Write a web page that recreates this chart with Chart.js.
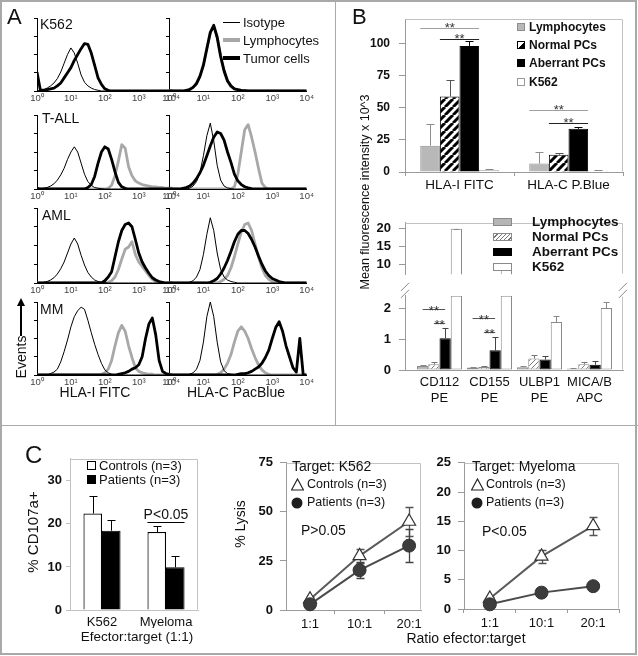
<!DOCTYPE html>
<html><head><meta charset="utf-8">
<script src="https://cdn.jsdelivr.net/npm/chart.js@4.4.1/dist/chart.umd.min.js"></script>
<style>
html,body{margin:0;padding:0;background:#fff;}
#fig{position:relative;width:638px;height:656px;overflow:hidden;font-family:'Liberation Sans',Arial,Helvetica,sans-serif;color:#111;background:#fff;}
.t{position:absolute;white-space:nowrap;line-height:1;z-index:3;}
.bx{position:absolute;z-index:3;box-sizing:border-box;}
canvas{position:absolute;}
</style></head>
<body><div id="fig"></div>
<script>
// ===================== DATA =====================
// ---- Panel A: flow histograms (x = log10 fluorescence, y = % of axis height) ----
const logGrid = [0,0.1,0.2,0.3,0.4,0.5,0.6,0.7,0.8,0.9,1,1.1,1.2,1.3,1.4,1.5,1.6,1.7,1.8,1.9,2,2.1,2.2,2.3,2.4,2.5,2.6,2.7,2.8,2.9,3,3.1,3.2,3.3,3.4,3.5,3.6,3.7,3.8,3.9,4];
const decadeTicks = [0,1,2,3,4];
const decadeLabels = ['10\u2070','10\u00b9','10\u00b2','10\u00b3','10\u2074'];

const isoK562I = [0,1,2,4,7,11,17,26,38,50, 59,52,38,22,12,7,4,2,1,0, 0,0,0,0,0,0,0,0,0,0, 0,0,0,0,0,0,0,0,0,0, 0];
const tumK562I = [26,1,1,2,3,4,7,11,18,25, 32,42,50,58,65,64,52,35,18,9, 3,1,0,0,0,0,0,0,0,0, 0,0,0,0,0,0,0,0,0,0, 0];
const lymK562I = [];
const isoK562C = [0,0,0,0,0,1,3,6,12,22, 38,60,82,88,70,45,25,12,6,3, 1.5,1,0.5,0,0,0,0,0,0,0, 0,0,0,0,0,0,0,0,0,0, 0];
const tumK562C = [0,0,0,0,0,1,2,5,10,20, 35,58,80,90,74,48,28,14,7,3, 2,1,0.5,0,0,0,0,0,0,0, 0,0,0,0,0,0,0,0,0,0, 0];
const lymK562C = [0,0,0,0,0,1,2,5,11,21, 37,59,81,89,72,46,26,13,6,3, 1.5,1,0.5,0,0,0,0,0,0,0, 0,0,0,0,0,0,0,0,0,0, 0];

const isoTallI = [3,0,1,2,4,7,12,19,28,40, 50,57,50,35,20,10,5,2,1,0.5, 0,0,0,0,0,0,0,0,0,0, 0,0,0,0,0,0,0,0,0,0, 0];
const tumTallI = [0,0,0,0,0,0,0,0,0,0, 0,0,0,0,0,2,6,17,35,50, 57,54,40,23,9,3,1,0,0,0, 0,0,0,0,0,0,0,0,0,0, 0];
const lymTallI = [0,0,0,0,0,0,0,0,0,0, 0,0,0,0,0,0,0,0,0,0, 0,1,5,18,38,60,55,30,18,11, 8,6,5,4,3,3,2,2,1,1, 1];
const isoTallC = [0,0,0,0,0,0,1,4,10,22, 45,72,89,65,32,12,4,1.5,0.5,0, 0,0,0,0,0,0,0,0,0,0, 0,0,0,0,0,0,0,0,0,0, 0];
const tumTallC = [0,0,0,0,1,2,4,8,14,22, 32,45,58,70,77,75,66,50,36,20, 11,6,3,1.5,0.5,0,0,0,0,0, 0,0,0,0,0,0,0,0,0,0, 0];
const lymTallC = [0,0,0,0,0,0,0,0,0,0, 0,0,0,0,0,0,0,0,0,3, 20,50,80,87,70,50,28,8,2,0, 0,0,0,0,0,0,0,0,0,0, 0];

const isoAmlI = [0,0,1,2,4,7,12,19,28,40, 52,60,52,37,24,14,8,4,2,1, 0.5,0,0,0,0,0,0,0,0,0, 0,0,0,0,0,0,0,0,0,0, 0];
const tumAmlI = [0,0,0,0,0,0,0,0,0,0, 0,0,0,0,0,0,0,0,0,0, 3,8,15,35,55,70,78,80,75,58, 40,28,20,13,7,4,2,1,0,0, 0];
const lymAmlI = [0,0,0,0,0,0,0,0,0,0, 0,0,0,0,0,0,0,0,0,0, 0,1,3,8,18,32,45,48,55,38, 28,22,16,10,5,2,1,0,0,0, 0];
const isoAmlC = [0,0,0,0,0,0,1,3,8,18, 38,65,87,70,40,18,8,4,2,1, 0,0,0,0,0,0,0,0,0,0, 0,0,0,0,0,0,0,0,0,0, 0];
const tumAmlC = [0,0,0,0,0,0,0,0,0,0, 0,0,1,3,6,12,20,30,42,55, 65,70,70,66,58,48,36,25,16,10, 6,4,2,1,0,0,0,0,0,0, 0];
const lymAmlC = [0,0,0,0,0,0,0,0,0,0, 0,0,0,0,0,2,5,10,20,35, 52,68,78,80,70,52,35,20,10,5, 2,1,0,0,0,0,0,0,0,0, 0];

const isoMmI = [0,0,0,0,2,4,8,18,32,48, 66,80,88,93,90,75,58,42,28,16, 7,3,1,0,0,0,0,0,0,0, 0,0,0,0,0,0,0,0,0,0, 0];
const lymMmI = [0,0,0,0,0,0,0,0,0,0, 0,0,0,0,0,0,0,0,0,1, 3,8,20,40,58,68,60,40,24,10, 5,3,2,1,1,0,0,0,0,0, 0];
const tumMmI = [0,0,0,0,0,0,0,0,0,0, 0,0,0,0,0,0,0,0,0,0, 0,0,0,0,1,2,3,5,8,10, 14,25,50,70,78,55,20,5,2,1, 0];
const isoMmC = [0,0,0,0,0,0,1,3,8,20, 45,80,100,80,45,18,6,2,1,0, 0,0,0,0,0,0,0,0,0,0, 0,0,0,0,0,0,0,0,0,0, 0];
const lymMmC = [0,0,0,0,0,0,0,0,0,0, 0,0,0,0,1,3,8,16,28,45, 60,66,60,50,36,24,14,7,3,1, 0,0,0,0,0,0,0,0,0,0, 0];
const tumMmC = [0,0,0,0,0,0,0,0,0,0, 0,0,0,0,0,0,0,0,0,0, 1,2,2,3,5,8,11,16,24,34, 50,65,73,60,40,25,10,4,50,0, 0];

// ---- Panel B top: MFI x10^3 ----
const catsB1 = ['HLA-I FITC','HLA-C P.Blue'];
const lymphB1 = [20.5, 6.6];  const lymphB1Err = [16.5, 9.3];
const normalB1 = [58.8, 13.4]; const normalB1Err = [13.2, 1.2];
const aberrB1 = [98.2, 33.6];  const aberrB1Err = [3.5, 1.8];
const k562B1 = [1.5, 1.0];     const k562B1Err = [0.6, 0.5];
const tickB1 = [0,25,50,75,100];
const sigB1 = [{cat:0,from:0,to:2,value:112},{cat:0,from:1,to:2,value:103.8},{cat:1,from:0,to:2,value:48.5},{cat:1,from:1,to:2,value:37.9}];

// ---- Panel B bottom (broken axis) ----
const catsB2 = [['CD112','PE'],['CD155','PE'],['ULBP1','PE'],['MICA/B','APC']];
const lymphB2 = [0.13, 0.08, 0.09, 0.05];  const lymphB2Err = [0.04, 0.03, 0.03, 0.02];
const normalB2 = [0.19, 0.10, 0.37, 0.19]; const normalB2Err = [0.06, 0.04, 0.13, 0.06];
const aberrB2 = [1.03, 0.64, 0.34, 0.17];  const aberrB2Err = [0.34, 0.43, 0.11, 0.11];
const k562B2 = [20.0, 8.5, 1.56, 2.01];    const k562B2Err = [0.1, 0.3, 0.21, 0.21];
const lowRangeB2 = [0, 2.41];  const highRangeB2 = [7.3, 21.7];
const lowTicksB2 = [0,1,2];    const highTicksB2 = [10,15,20];
const sigB2 = [{cat:0,from:0,to:2,value:1.97},{cat:0,from:1,to:2,value:1.52},{cat:1,from:0,to:2,value:1.68},{cat:1,from:1,to:2,value:1.24}];

// ---- Panel C ----
const catsC1 = ['K562','Myeloma'];
const ctrlC1 = [22.4, 18.1]; const ctrlC1Err = [4.0, 1.4];
const patC1 = [18.4, 9.9];   const patC1Err = [2.6, 2.6];
const tickC1 = [0,10,20,30];
const sigC1 = [{cat:1,from:0,to:1,value:20.4}];

const ratios = ['1:1','10:1','20:1'];
const ctrlK = [5.5, 27.6, 45.1]; const ctrlKErr = [1.2, 3.7, 7.2];
const patK = [2.9, 20.3, 32.8];  const patKErr = [1.2, 4.1, 8.4];
const tickK = [0,25,50,75];
const ctrlM = [1.8, 9.0, 14.2]; const ctrlMErr = [0.3, 1.1, 1.5];
const patM = [0.8, 2.8, 3.9];   const patMErr = [0.3, 0.5, 0.6];
const tickM = [0,5,10,15,20,25];

// ===================== HELPERS =====================
const FONT = "'Liberation Sans', Arial, Helvetica, sans-serif";
Chart.defaults.font.family = FONT;
Chart.defaults.color = '#111';
const LIGHT = '#c2c2c2', AX = '#9a9a9a';
const fig = document.getElementById('fig');

function makeChart(area, yW, xH, pad, cfg) {
  const left = area.l - yW - pad.l, top = area.t - pad.t;
  const w = area.r + pad.r - left, h = area.b + xH + pad.b - top;
  const cv = document.createElement('canvas');
  cv.width = w; cv.height = h;
  cv.style.cssText = `left:${left}px;top:${top}px;width:${w}px;height:${h}px;`;
  fig.appendChild(cv);
  const o = cfg.options = cfg.options || {};
  o.responsive = false; o.animation = false; o.devicePixelRatio = 1; o.maintainAspectRatio = false;
  o.layout = {padding: {left: pad.l, top: pad.t, right: pad.r, bottom: pad.b}};
  o.plugins = Object.assign({legend: {display: false}, tooltip: {enabled: false}}, o.plugins || {});
  for (const [id, s] of Object.entries(o.scales || {})) {
    if (s.display === false) continue;
    if (id[0] === 'x') s.afterFit = sc => { sc.height = xH; };
    else s.afterFit = sc => { sc.width = yW; };
  }
  return new Chart(cv, cfg);
}
function fixTicks(arr) { return s => { s.ticks = arr.map(v => ({value: v})); }; }

function txt(s, x, y, o = {}) {
  const d = document.createElement('div'); d.className = 't'; d.textContent = s;
  d.style.left = x + 'px'; d.style.top = y + 'px';
  d.style.fontSize = (o.size || 13) + 'px';
  if (o.bold) d.style.fontWeight = 'bold';
  if (o.color) d.style.color = o.color;
  const ax = o.align === 'left' ? '0' : o.align === 'right' ? '-100%' : '-50%';
  d.style.transform = `translate(${ax},-50%)` + (o.rot ? ` rotate(${o.rot}deg)` : '');
  fig.appendChild(d); return d;
}
function box(x, y, w, h, css) {
  const d = document.createElement('div'); d.className = 'bx';
  d.style.cssText = `left:${x}px;top:${y}px;width:${w}px;height:${h}px;` + css;
  fig.appendChild(d); return d;
}
function svgAt(x, y, w, h, inner) {
  const d = document.createElement('div'); d.className = 'bx';
  d.style.cssText = `left:${x - w/2}px;top:${y - h/2}px;width:${w}px;height:${h}px;`;
  d.innerHTML = `<svg width="${w}" height="${h}" xmlns="http://www.w3.org/2000/svg">${inner}</svg>`;
  fig.appendChild(d);
}
function tile(fg, bg, s, lw) {
  const p = document.createElement('canvas'); p.width = s; p.height = s;
  const c = p.getContext('2d'); c.fillStyle = bg; c.fillRect(0, 0, s, s);
  c.strokeStyle = fg; c.lineWidth = lw; c.beginPath();
  for (const k of [-s, 0, s]) { c.moveTo(k, s); c.lineTo(k + s, 0); }
  c.stroke(); return p;
}
const tileBold = tile('#000', '#fff', 8, 3);
const tileThin = tile('#6a6a6a', '#fff', 5, 0.9);

function framePlugin(sides) {
  return {id: 'frame', afterDatasetsDraw(ch) {
    const a = ch.chartArea, c = ch.ctx;
    const L = Math.round(a.left) + 0.5, R = Math.round(a.right) - 0.5, T = Math.round(a.top) + 0.5, B = Math.round(a.bottom) - 0.5;
    c.save(); c.strokeStyle = LIGHT; c.lineWidth = 1; c.beginPath();
    if (sides.includes('t')) { c.moveTo(L, T); c.lineTo(R, T); }
    if (sides.includes('r')) { c.moveTo(R, T); c.lineTo(R, B); }
    if (sides.includes('l')) { c.moveTo(L, T); c.lineTo(L, B); }
    c.stroke(); c.restore();
  }};
}
function barErrPlugin(specs, cap) {
  return {id: 'berr', afterDatasetsDraw(ch) {
    const c = ch.ctx, ys = ch.scales.y;
    specs.forEach(sp => {
      const meta = ch.getDatasetMeta(sp.ds);
      sp.vals.forEach((v, i) => {
        if (sp.show && !sp.show(v)) return;
        const el = meta.data[i]; if (!el || isNaN(el.y)) return;
        const y0 = ys.getPixelForValue(v), y1 = Math.round(ys.getPixelForValue(v + sp.errs[i])) + 0.5;
        const x = Math.round(el.x) + 0.5;
        c.save(); c.strokeStyle = sp.color; c.lineWidth = 1; c.beginPath();
        c.moveTo(x, y0); c.lineTo(x, y1); c.moveTo(x - cap/2, y1); c.lineTo(x + cap/2, y1);
        c.stroke(); c.restore();
      });
    });
  }};
}
function sigPlugin(sigs, o) {
  return {id: 'sig', afterDatasetsDraw(ch) {
    const c = ch.ctx, ys = ch.scales.y, meta = ch.getDatasetMeta(0);
    sigs.forEach((s, k) => {
      const el = meta.data[s.cat], bw = el.width, gl = el.x - bw/2;
      const x1 = o.mode === 'center' ? gl + (s.from + 0.5) * bw : gl + s.from * bw;
      const x2 = o.mode === 'center' ? gl + (s.to + 0.5) * bw : gl + (s.to + 1) * bw;
      const y = Math.round(ys.getPixelForValue(s.value)) + 0.5;
      c.save(); c.strokeStyle = o.colors[k % o.colors.length]; c.lineWidth = 1;
      c.beginPath(); c.moveTo(x1, y); c.lineTo(x2, y); c.stroke();
      c.fillStyle = o.textColor; c.font = o.font; c.textAlign = 'center'; c.textBaseline = 'alphabetic';
      c.fillText(o.label, (x1 + x2) / 2, y + o.dy); c.restore();
    });
  }};
}
function lineErrPlugin(specs) {
  return {id: 'lerr', beforeDatasetsDraw(ch) {
    const c = ch.ctx, ys = ch.scales.y, xs = ch.scales.x;
    specs.forEach(sp => sp.vals.forEach((v, i) => {
      const x = Math.round(xs.getPixelForValue(i)) + 0.5;
      const y1 = Math.round(ys.getPixelForValue(v + sp.errs[i])) + 0.5, y2 = Math.round(ys.getPixelForValue(Math.max(0, v - sp.errs[i]))) + 0.5;
      c.save(); c.strokeStyle = sp.color; c.lineWidth = 1.3; c.beginPath();
      c.moveTo(x, y1); c.lineTo(x, y2);
      c.moveTo(x - 4, y1); c.lineTo(x + 4, y1); c.moveTo(x - 4, y2); c.lineTo(x + 4, y2);
      c.stroke(); c.restore();
    }));
  }};
}

// ===================== PANEL A =====================
function histChart(area, iso, lym, tum) {
  const pts = arr => arr.map((v, i) => ({x: logGrid[i], y: v}));
  return makeChart(area, 8, 14, {l: 2, t: 4, r: 9, b: 2}, {
    type: 'line',
    data: {datasets: [
      {data: pts(iso), borderColor: '#000', borderWidth: 1},
      {data: pts(tum), borderColor: '#000', borderWidth: 2.8},
      {data: pts(lym), borderColor: '#a8a8a8', borderWidth: 2.8},
    ]},
    options: {
      elements: {point: {radius: 0}, line: {tension: 0, borderJoinStyle: 'round'}},
      scales: {
        x: {type: 'linear', min: 0, max: 4, afterBuildTicks: fixTicks(decadeTicks),
            ticks: {callback: (v, i) => decadeLabels[i], font: {size: 9.5}, color: '#444', padding: 2, maxRotation: 0, autoSkip: false},
            grid: {display: false, drawTicks: false}, border: {color: '#000', width: 1}},
        y: {min: 0, max: 100, afterBuildTicks: fixTicks([0,25,50,75,100]), ticks: {display: false},
            grid: {drawOnChartArea: false, tickLength: 3, color: '#000'}, border: {color: '#000', width: 1}}
      }
    }
  });
}
const colL = {l: 37, r: 173}, colR = {l: 169, r: 307};
const rowsY = [{t: 18, b: 91}, {t: 115, b: 189}, {t: 208, b: 283}, {t: 302, b: 375}];
const histData = [
  [[isoK562I, lymK562I, tumK562I], [isoK562C, lymK562C, tumK562C]],
  [[isoTallI, lymTallI, tumTallI], [isoTallC, lymTallC, tumTallC]],
  [[isoAmlI, lymAmlI, tumAmlI], [isoAmlC, lymAmlC, tumAmlC]],
  [[isoMmI, lymMmI, tumMmI], [isoMmC, lymMmC, tumMmC]],
];
histData.forEach((row, r) => {
  [colL, colR].forEach((col, ci) => {
    const d = row[ci];
    histChart({l: col.l, r: col.r, t: rowsY[r].t, b: rowsY[r].b}, d[0], d[1], d[2]);
  });
});

// ===================== PANEL B top =====================
makeChart({l: 405, t: 15, r: 623, b: 172}, 40, 18, {l: 0, t: 12, r: 8, b: 2}, {
  type: 'bar',
  data: {labels: catsB1, datasets: [
    {data: lymphB1, backgroundColor: '#b8b8b8', borderColor: '#8e8e8e', borderWidth: 1},
    {data: normalB1, backgroundColor: c => c.chart.ctx.createPattern(tileBold, 'repeat'), borderColor: '#000', borderWidth: 1},
    {data: aberrB1, backgroundColor: '#000', borderColor: '#000', borderWidth: 1},
    {data: k562B1, backgroundColor: '#fff', borderColor: '#9a9a9a', borderWidth: 1},
  ]},
  options: {
    datasets: {bar: {categoryPercentage: 0.72, barPercentage: 1}},
    scales: {
      x: {grid: {offset: true, drawOnChartArea: false, tickLength: 4, color: AX}, border: {color: AX},
          ticks: {font: {size: 13.5}, color: '#111', padding: 1}},
      y: {min: 0, max: 119, afterBuildTicks: fixTicks(tickB1),
          grid: {drawOnChartArea: false, tickLength: 6, color: AX}, border: {color: AX},
          ticks: {font: {size: 12, weight: 'bold'}, color: '#111', padding: 9}}
    }
  },
  plugins: [framePlugin('tr'),
    barErrPlugin([
      {ds: 0, vals: lymphB1, errs: lymphB1Err, color: '#8e8e8e'},
      {ds: 1, vals: normalB1, errs: normalB1Err, color: '#555'},
      {ds: 2, vals: aberrB1, errs: aberrB1Err, color: '#000'},
      {ds: 3, vals: k562B1, errs: k562B1Err, color: '#888'}], 8),
    sigPlugin(sigB1, {mode: 'edge', colors: ['#a0a0a0', '#222'], label: '**', font: '13px ' + FONT, textColor: '#333', dy: 3.5})]
});

// ===================== PANEL B bottom (broken axis) =====================
const stylesB2 = [
  {backgroundColor: '#b5b5b5', borderColor: '#8a8a8a'},
  {backgroundColor: c => c.chart.ctx.createPattern(tileThin, 'repeat'), borderColor: '#8a8a8a'},
  {backgroundColor: '#000', borderColor: '#000'},
  {backgroundColor: '#fff', borderColor: '#8a8a8a'},
];
const setsB2 = [lymphB2, normalB2, aberrB2, k562B2];
const errsB2 = [lymphB2Err, normalB2Err, aberrB2Err, k562B2Err];
const errColB2 = ['#888', '#777', '#444', '#888'];
function bBottom(isUpper) {
  const lowMax = lowRangeB2[1];
  const datasets = setsB2.map((vals, k) => Object.assign({
    data: vals.map((v, i) => ({x: i, y: isUpper ? (k === 3 && v > lowMax ? v : null) : Math.min(v, lowMax)})),
    borderWidth: 1, borderSkipped: false, categoryPercentage: 0.9, barPercentage: 1
  }, stylesB2[k]));
  const xScale = {type: 'linear', offset: false, min: -0.69, max: 3.67, afterBuildTicks: fixTicks([0,1,2,3]),
    ticks: {callback: (v, i) => catsB2[i], font: {size: 13}, color: '#111', padding: 5, maxRotation: 0, autoSkip: false},
    grid: {display: false, drawTicks: false}, border: {color: AX}};
  if (isUpper) xScale.display = false;
  const yScale = {min: isUpper ? highRangeB2[0] : lowRangeB2[0], max: isUpper ? highRangeB2[1] : lowRangeB2[1],
    afterBuildTicks: fixTicks(isUpper ? highTicksB2 : lowTicksB2),
    grid: {drawOnChartArea: false, tickLength: 6, color: AX}, border: {color: AX},
    ticks: {font: {size: 13, weight: 'bold'}, color: '#111', padding: 8}};
  const show = isUpper ? (v => v > lowMax) : (v => v <= lowMax);
  const plugins = [
    framePlugin(isUpper ? 'tr' : 'r'),
    barErrPlugin(setsB2.map((vals, k) => ({ds: k, vals, errs: errsB2[k], color: errColB2[k], show})), 6)
  ];
  if (!isUpper) {
    plugins.push(sigPlugin(sigB2, {mode: 'center', colors: ['#555', '#555'], label: '**', font: '13px ' + FONT, textColor: '#333', dy: 5}));
    plugins.push({id: 'brk', afterDraw(ch) {
      const c = ch.ctx, a = ch.chartArea;
      c.save(); c.strokeStyle = '#888'; c.lineWidth = 1; c.beginPath();
      [a.left, a.right].forEach(x => {
        [-9, -2].forEach(dy => { c.moveTo(x - 4, a.top + dy + 4); c.lineTo(x + 4, a.top + dy - 4); });
      });
      c.stroke(); c.restore();
    }});
  }
  const pad = isUpper ? {l: 0, t: 6, r: 8, b: 2} : {l: 0, t: 14, r: 8, b: 2};
  const area = isUpper ? {l: 405, t: 213, r: 623, b: 288} : {l: 405, t: 294, r: 623, b: 370};
  return makeChart(area, 40, isUpper ? 0 : 34, pad, {
    type: 'bar', data: {datasets},
    options: {scales: {x: xScale, y: yScale}},
    plugins
  });
}
bBottom(true);
bBottom(false);

// ===================== PANEL C bars =====================
makeChart({l: 70, t: 453, r: 198, b: 610}, 30, 18, {l: 0, t: 6, r: 6, b: 2}, {
  type: 'bar',
  data: {labels: catsC1, datasets: [
    {data: ctrlC1, backgroundColor: '#fff', borderColor: '#000', borderWidth: 1.2, borderSkipped: 'start'},
    {data: patC1, backgroundColor: '#000', borderColor: '#000', borderWidth: 1},
  ]},
  options: {
    datasets: {bar: {categoryPercentage: 0.58, barPercentage: 1}},
    scales: {
      x: {grid: {display: false, drawTicks: false}, border: {color: LIGHT}, ticks: {font: {size: 13}, color: '#111', padding: 5}},
      y: {min: 0, max: 35.1, afterBuildTicks: fixTicks(tickC1), grid: {drawOnChartArea: false, tickLength: 4, color: LIGHT},
          border: {color: LIGHT}, ticks: {font: {size: 13, weight: 'bold'}, color: '#111', padding: 4}}
    }
  },
  plugins: [framePlugin('tr'),
    barErrPlugin([{ds: 0, vals: ctrlC1, errs: ctrlC1Err, color: '#000'}, {ds: 1, vals: patC1, errs: patC1Err, color: '#000'}], 8),
    sigPlugin(sigC1, {mode: 'edge', colors: ['#000'], label: 'P<0.05', font: '14px ' + FONT, textColor: '#111', dy: -4})]
});

// ===================== PANEL C lysis =====================
function lysisChart(area, xmin, xmax, ymax, ticks, ctrl, ctrlErr, pat, patErr) {
  const pts = arr => arr.map((v, i) => ({x: i, y: v}));
  return makeChart(area, 30, 18, {l: 0, t: 8, r: 14, b: 2}, {
    type: 'line',
    data: {datasets: [
      {data: pts(pat), borderColor: '#4a4a4a', borderWidth: 2, pointStyle: 'circle', pointRadius: 6.5,
       pointBackgroundColor: '#3c3c3c', pointBorderColor: '#333', pointBorderWidth: 1, clip: false},
      {data: pts(ctrl), borderColor: '#5a5a5a', borderWidth: 2, pointStyle: 'triangle', pointRadius: 7.5,
       pointBackgroundColor: '#fff', pointBorderColor: '#333', pointBorderWidth: 1.2, clip: false},
    ]},
    options: {
      elements: {line: {tension: 0}},
      scales: {
        x: {type: 'linear', min: xmin, max: xmax, afterBuildTicks: fixTicks([0,1,2]),
            ticks: {callback: (v, i) => ratios[i], font: {size: 13}, color: '#111', padding: 3, maxRotation: 0, autoSkip: false},
            grid: {offset: true, drawOnChartArea: false, tickLength: 4, color: AX}, border: {color: AX}},
        y: {min: 0, max: ymax, afterBuildTicks: fixTicks(ticks), grid: {drawOnChartArea: false, tickLength: 6, color: AX},
            border: {color: AX}, ticks: {font: {size: 13, weight: 'bold'}, color: '#111', padding: 7}}
      }
    },
    plugins: [framePlugin('tr'), lineErrPlugin([
      {vals: ctrl, errs: ctrlErr, color: '#555'}, {vals: pat, errs: patErr, color: '#444'}])]
  });
}
lysisChart({l: 286, t: 456, r: 421, b: 610}, -0.485, 2.24, 75, tickK, ctrlK, ctrlKErr, patK, patKErr);
lysisChart({l: 464, t: 456, r: 619, b: 609}, -0.5, 2.5, 25, tickM, ctrlM, ctrlMErr, patM, patMErr);

// ===================== TEXT / DECOR =====================
box(0, 0, 637, 655, 'border:2px solid #a9a9a9;background:transparent;z-index:1;');
box(335, 0, 1, 425, 'background:#aaa;');
box(0, 425, 638, 1, 'background:#aaa;');

// Panel A
txt('A', 7, 17, {align: 'left', size: 22});
txt('K562', 40, 24, {align: 'left', size: 14});
txt('T-ALL', 42, 118, {align: 'left', size: 14});
txt('AML', 42, 215, {align: 'left', size: 14});
txt('MM', 40, 309, {align: 'left', size: 14});
box(223, 21.5, 17, 1, 'background:#000;');
box(223, 38, 17, 4, 'background:#a8a8a8;');
box(223, 56, 17, 4, 'background:#000;');
txt('Isotype', 243, 22, {align: 'left', size: 13});
txt('Lymphocytes', 243, 40, {align: 'left', size: 13});
txt('Tumor cells', 243, 58, {align: 'left', size: 13});
txt('HLA-I FITC', 95, 392, {size: 14});
txt('HLA-C PacBlue', 236, 392, {size: 14});
txt('Events', 21, 357, {size: 14, rot: -90});
box(20.4, 305, 1.2, 31, 'background:#000;');
box(17, 298, 8, 8, 'width:0;height:0;border-left:4px solid transparent;border-right:4px solid transparent;border-bottom:8px solid #000;');

// Panel B
txt('B', 352, 17, {align: 'left', size: 22});
const legB1 = [
  ['Lymphocytes', 'background:#b8b8b8;border:1px solid #8e8e8e;'],
  ['Normal PCs', 'background:linear-gradient(135deg,#fff 0 50%,#000 50% 100%);border:1px solid #000;'],
  ['Aberrant PCs', 'background:#000;'],
  ['K562', 'background:#fff;border:1px solid #999;'],
];
[27, 45, 63, 82].forEach((y, i) => {
  box(517, y - 4, 8, 8, legB1[i][1]);
  txt(legB1[i][0], 529, y, {align: 'left', size: 12, bold: true});
});
txt('Mean fluorescence intensity x 10^3', 365, 192, {size: 12.5, rot: -90});
const legB2 = [
  ['Lymphocytes', 'background:#b5b5b5;border:1px solid #8a8a8a;'],
  ['Normal PCs', 'background:repeating-linear-gradient(135deg,#fff 0 2px,#777 2px 3px);border:1px solid #8a8a8a;'],
  ['Aberrant PCs', 'background:#000;'],
  ['K562', 'background:#fff;border:1px solid #8a8a8a;'],
];
[222, 237, 252, 267].forEach((y, i) => {
  box(493, y - 4, 19, 8, legB2[i][1]);
  txt(legB2[i][0], 532, y, {align: 'left', size: 13.5, bold: true});
});

// Panel C
txt('C', 25, 455, {align: 'left', size: 24});
txt('% CD107a+', 32, 532, {size: 15, rot: -90});
box(87, 461, 9, 9, 'background:#fff;border:1px solid #000;');
txt('Controls (n=3)', 99, 465, {align: 'left', size: 13});
box(87, 475, 9, 9, 'background:#000;');
txt('Patients (n=3)', 99, 479, {align: 'left', size: 13});
txt('Efector:target (1:1)', 137, 637, {size: 13.5});

txt('% Lysis', 240, 524, {size: 14, rot: -90});
const triSvg = '<polygon points="6.5,1 12.5,12 0.5,12" fill="#fff" stroke="#222" stroke-width="1.2"/>';
const cirSvg = '<circle cx="6" cy="6" r="5.5" fill="#1e1e1e"/>';
txt('Target: K562', 292, 466, {align: 'left', size: 14});
svgAt(297, 483, 13, 13, triSvg);
txt('Controls (n=3)', 307, 484, {align: 'left', size: 12.5});
svgAt(297, 501, 12, 12, cirSvg);
txt('Patients (n=3)', 307, 502, {align: 'left', size: 12.5});
txt('P>0.05', 301, 530, {align: 'left', size: 14});

txt('Target: Myeloma', 472, 466, {align: 'left', size: 14});
svgAt(477, 483, 13, 13, triSvg);
txt('Controls (n=3)', 486, 484, {align: 'left', size: 12.5});
svgAt(477, 501, 12, 12, cirSvg);
txt('Patients (n=3)', 486, 502, {align: 'left', size: 12.5});
txt('P<0.05', 482, 531, {align: 'left', size: 14});
txt('Ratio efector:target', 466, 638, {size: 14});
</script>
</body></html>
